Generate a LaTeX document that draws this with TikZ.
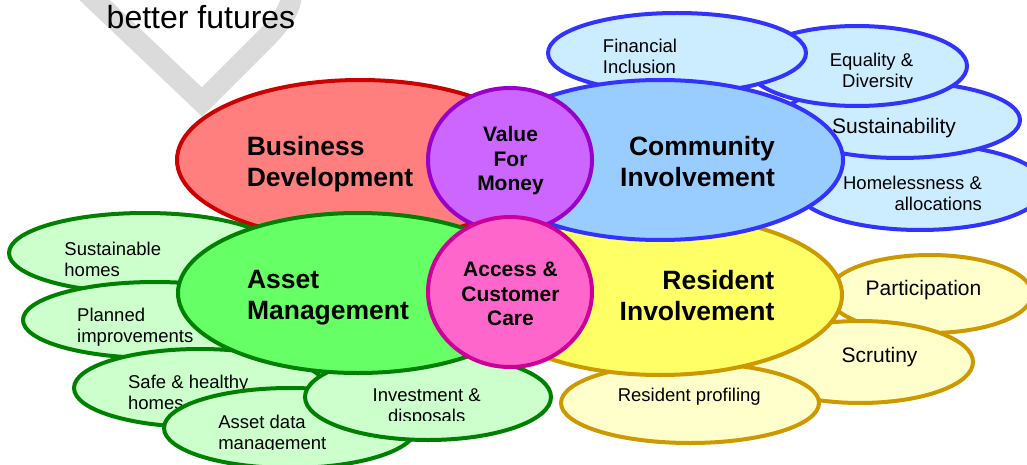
\documentclass[tikz,border=0pt]{standalone}
\usepackage{fontspec}
\setmainfont{Liberation Sans}
\usetikzlibrary{shapes.geometric}

\definecolor{RedFill}{HTML}{FF7F7F}
\definecolor{RedLine}{HTML}{CC0000}
\definecolor{BlueFill}{HTML}{99CCFF}
\definecolor{BlueSub}{HTML}{CCECFF}
\definecolor{BlueLine}{HTML}{3333FF}
\definecolor{GreenFill}{HTML}{66FF66}
\definecolor{GreenSub}{HTML}{CCFFCC}
\definecolor{GreenLine}{HTML}{008000}
\definecolor{YellowFill}{HTML}{FFFF66}
\definecolor{YellowSub}{HTML}{FFFFCC}
\definecolor{YellowLine}{HTML}{CC9900}
\definecolor{PurpleFill}{HTML}{CC66FF}
\definecolor{PurpleLine}{HTML}{9900CC}
\definecolor{PinkFill}{HTML}{FF66CC}
\definecolor{PinkLine}{HTML}{CC0099}

\begin{document}
\begin{tikzpicture}[x=1pt,y=-1pt]

\tikzset{Bubble/.style 2 args = {ellipse, inner sep=0pt, line width=4pt,
                                 minimum width=#1pt, minimum height=#2pt},
         GreenStyle/.style  = {draw=GreenLine, fill=GreenSub},
         YellowStyle/.style = {draw=YellowLine, fill=YellowSub},
         BlueStyle/.style   = {draw=BlueLine, fill=BlueSub},
         BigText/.style  = {inner sep=0pt, font=\fontsize{26.5}{31}\selectfont\bfseries},
         HubText/.style  = {inner sep=0pt, align=center, font=\fontsize{21}{24.3}\selectfont\bfseries},
         SubText/.style  = {inner sep=0pt, font=\fontsize{18.5}{21}\selectfont},
         WideText/.style = {inner sep=0pt, font=\fontsize{21}{24}\selectfont}}

\useasboundingbox (0,0) rectangle (1027,465);

% watermark
\draw[gray!28, line width=21pt] (82,-12) -- (202,102) -- (264,40)
     .. controls (286,18) and (292,5) .. (292,-12);
\node[inner sep=0pt, font=\fontsize{32}{36}\selectfont] (motto) at (201,17) {better futures};

\node[Bubble={366}{160}, draw=RedLine, fill=RedFill] (bus) at (360,160) {};

% asset management items
\node[Bubble={272}{80}, GreenStyle] (shomes) at (145,253) {};
\node[SubText, align=left] (tshomes) at (112.8,259) {Sustainable\\homes};
\node[Bubble={264}{76}, GreenStyle] (plan) at (155,320) {};
\node[SubText, align=left] (tplan) at (135.3,327.5) {Planned\\improvements};
\node[Bubble={252}{78}, GreenStyle] (safe) at (200,388) {};
\node[SubText, align=left] (tsafe) at (188.3,392.8) {Safe \& healthy\\homes};
\node[Bubble={252}{80}, GreenStyle] (adata) at (290,428) {};
\begin{scope}
\clip (0,0) rectangle (1027,449);
\node[SubText, align=left] (tadata) at (272.3,434.7) {Asset data\\management};
\end{scope}
\node[Bubble={246}{86}, GreenStyle] (inv) at (428,397) {};
\begin{scope}
\clip (0,0) rectangle (1027,420.5);
\node[SubText, align=center] (tinv) at (426.7,407.2) {Investment \&\\disposals};
\end{scope}

% resident involvement items
\node[Bubble={204}{78}, YellowStyle] (part) at (930,294) {};
\node[WideText] (tpart) at (923.5,290) {Participation};
\node[Bubble={226}{82}, YellowStyle] (scr) at (860,362) {};
\node[WideText] (tscr) at (879.5,357) {Scrutiny};
\node[Bubble={258}{80}, YellowStyle] (prof) at (690,403) {};
\node[SubText] (tprof) at (689.3,396.9) {Resident profiling};

% community involvement items
\node[Bubble={250}{86}, BlueStyle] (hom) at (920,187) {};
\node[SubText, align=right] (thom) at (912.5,193) {Homelessness \&\\allocations};
\node[Bubble={240}{76}, BlueStyle] (sus) at (900,120) {};
\node[WideText] (tsus) at (894,127.9) {Sustainability};
\node[Bubble={220}{80}, BlueStyle] (equ) at (857,66) {};
\begin{scope}
\clip (0,0) rectangle (1027,88);
\node[SubText, align=right] (tequ) at (871.5,72.2) {Equality \&\\Diversity};
\end{scope}
\node[Bubble={258}{80}, BlueStyle] (fin) at (677,53) {};
\node[SubText, align=left] (tfin) at (640,56.5) {Financial\\Inclusion};

% main areas
\node[Bubble={360}{160}, draw=GreenLine, fill=GreenFill] (ass) at (358,293) {};
\node[Bubble={364}{160}, draw=YellowLine, fill=YellowFill] (res) at (660,295) {};
\node[Bubble={366}{160}, draw=BlueLine, fill=BlueFill] (com) at (660,160) {};

\node[BigText, align=left]  (tbus) at (330,164.6) {Business\\Development};
\node[BigText, align=right] (tcom) at (697.5,162) {Community\\Involvement};
\node[BigText, align=left]  (tass) at (328,297.8) {Asset\\Management};
\node[BigText, align=right] (tres) at (697,295.9) {Resident\\Involvement};

\node[Bubble={164}{144}, draw=PurpleLine, fill=PurpleFill] (val) at (510,160) {};
\node[HubText] (tval) at (510.5,160.7) {Value\\For\\Money};
\node[Bubble={164}{150}, draw=PinkLine, fill=PinkFill] (acc) at (510,292) {};
\node[HubText] (tacc) at (510.5,293.9) {Access \&\\Customer\\Care};

\end{tikzpicture}
\end{document}
